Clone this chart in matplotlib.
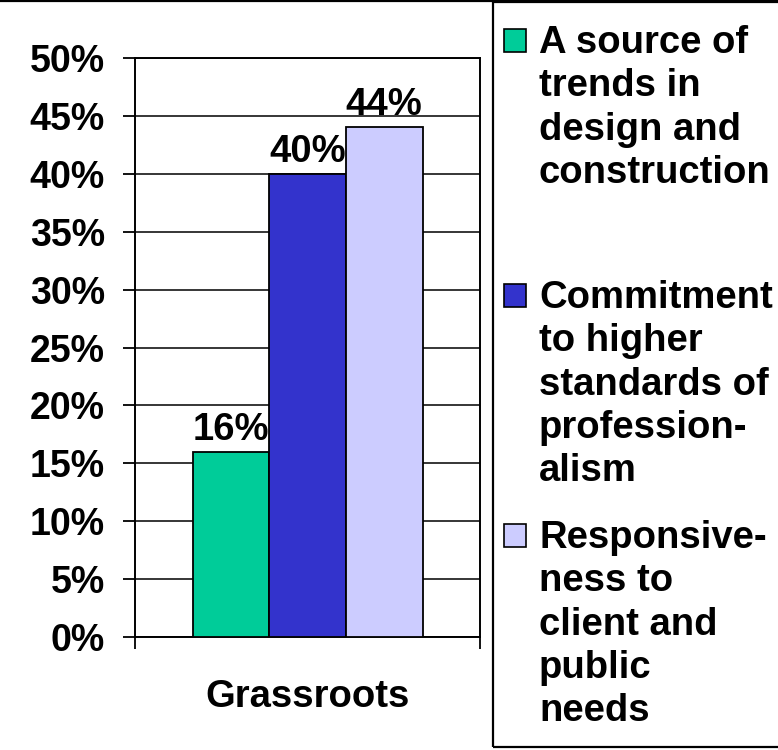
import matplotlib
matplotlib.use("Agg")
import matplotlib.pyplot as plt
from matplotlib.patches import Rectangle
from matplotlib.lines import Line2D
from matplotlib.ticker import FuncFormatter

# ---- data ----
category = "Grassroots"
series_names = [
    "A source of\ntrends in\ndesign and\nconstruction",
    "Commitment\nto higher\nstandards of\nprofession-\nalism",
    "Responsive-\nness to\nclient and\npublic\nneeds",
]
values = [16, 40, 44]
colors = ["#00CC99", "#3333CC", "#CCCCFF"]
y_ticks = [0, 5, 10, 15, 20, 25, 30, 35, 40, 45, 50]

W, H = 778, 750
DPI = 100
plt.rcParams["font.family"] = ["Liberation Sans", "DejaVu Sans"]
plt.rcParams["font.weight"] = "bold"

fig = plt.figure(figsize=(W / DPI, H / DPI), dpi=DPI)

def fx(px):
    return px / W

def fy(py):
    return 1 - py / H

ax = fig.add_axes([fx(135), fy(637), fx(480) - fx(135), fy(58) - fy(637)])

bw = 2 / 9
n = len(values)
xs = [(i - (n - 1) / 2) * bw for i in range(n)]
bars = ax.bar(xs, values, width=bw, color=colors, edgecolor="black",
              linewidth=1.3, zorder=3)
for x, v in zip(xs, values):
    ax.annotate(f"{v}%", (x, v), xytext=(0, 3), textcoords="offset points",
                ha="center", va="bottom", fontsize=27.5, fontweight="bold")

ax.set_xlim(-0.5, 0.5)
ax.set_ylim(0, 50)
ax.set_yticks(y_ticks)
ax.yaxis.set_major_formatter(FuncFormatter(lambda v, p: f"{int(v)}%"))
ax.tick_params(axis="y", length=8.6, width=1.3, pad=13, labelsize=27,
               direction="out")
for lab in ax.get_yticklabels():
    lab.set_fontweight("bold")
ax.set_xticks([0])
ax.set_xticklabels([category], fontsize=27.5, fontweight="bold")
ax.tick_params(axis="x", which="major", length=0, pad=30)
ax.set_xticks([-0.5, 0.5], minor=True)
ax.tick_params(axis="x", which="minor", length=8.6, width=1.3, direction="out")
ax.yaxis.grid(True, color="black", linewidth=1.1, zorder=0)
ax.set_axisbelow(True)
for s in ax.spines.values():
    s.set_color("black")
    s.set_linewidth(1.4)

# ---- legend (drawn manually to match layout) ----
fig.add_artist(Rectangle((fx(493), fy(747)), fx(790) - fx(493), fy(2) - fy(747),
                         transform=fig.transFigure, fill=False,
                         edgecolor="black", linewidth=1.6))
fig.add_artist(Line2D([0, 1], [fy(1), fy(1)], transform=fig.transFigure,
                      color="black", linewidth=1.6))
first_baselines = [53, 308, 548]
pitch = 43.3
for name, col, b0 in zip(series_names, colors, first_baselines):
    fig.add_artist(Rectangle((fx(504), fy(b0 - 1)), fx(526) - fx(504),
                             fy(b0 - 24) - fy(b0 - 1),
                             transform=fig.transFigure, facecolor=col,
                             edgecolor="black", linewidth=1.2))
    for k, line in enumerate(name.split("\n")):
        fig.text(fx(539), fy(b0 + k * pitch), line, ha="left", va="baseline",
                 fontsize=27.5, fontweight="bold")

fig.savefig("out.png", dpi=DPI)
